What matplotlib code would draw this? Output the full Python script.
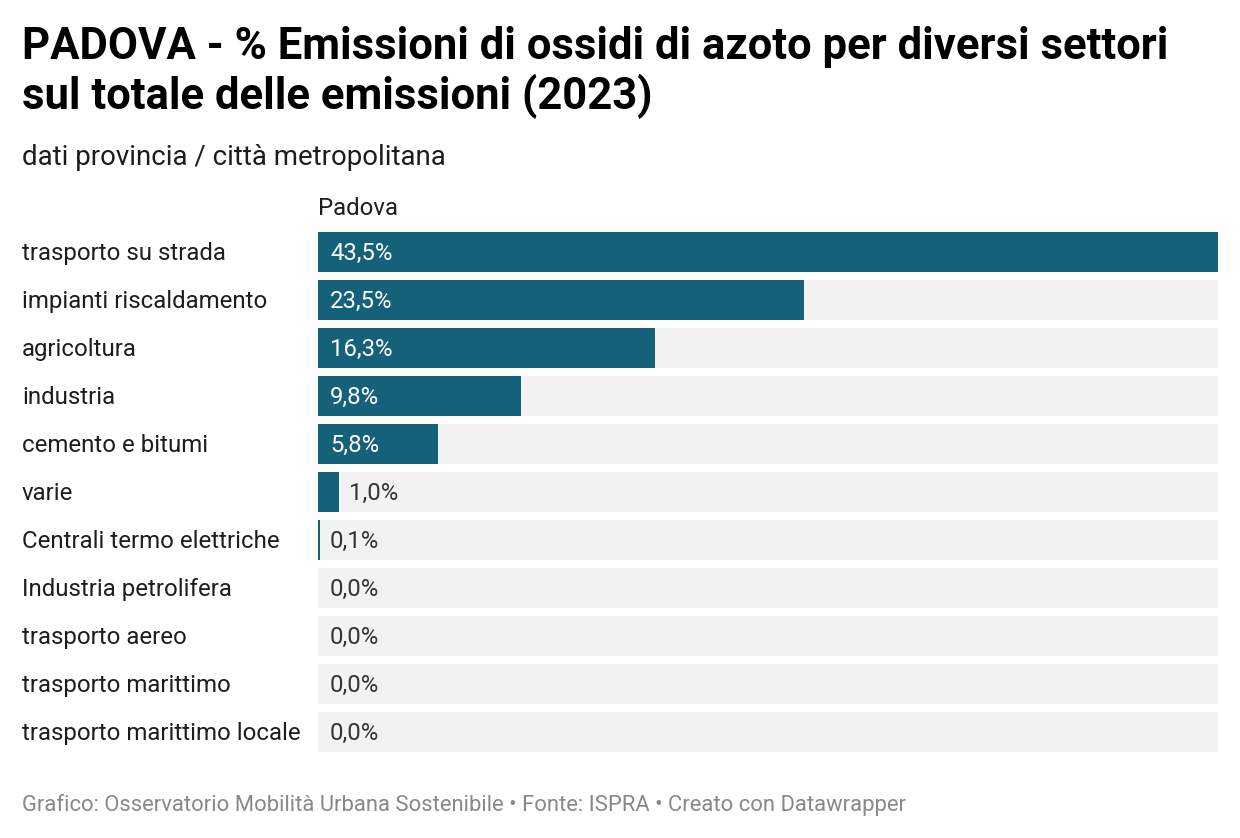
import matplotlib.pyplot as plt
from matplotlib import transforms

plt.rcParams["font.family"] = ["Roboto", "DejaVu Sans"]

categories = [
    "trasporto su strada",
    "impianti riscaldamento",
    "agricoltura",
    "industria",
    "cemento e bitumi",
    "varie",
    "Centrali termo elettriche",
    "Industria petrolifera",
    "trasporto aereo",
    "trasporto marittimo",
    "trasporto marittimo locale",
]
values = [43.5, 23.5, 16.3, 9.8, 5.8, 1.0, 0.1, 0.0, 0.0, 0.0, 0.0]
column_name = "Padova"

title_lines = ["PADOVA - % Emissioni di ossidi di azoto per diversi settori",
               "sul totale delle emissioni (2023)"]
subtitle = "dati provincia / città metropolitana"
footer = "Grafico: Osservatorio Mobilità Urbana Sostenibile • Fonte: ISPRA • Creato con Datawrapper"

W, H = 1240, 838
bar_color = "#15617a"
bg_color = "#f2f2f2"


def fy(px):
    return 1 - px / H


fig = plt.figure(figsize=(W / 100, H / 100), dpi=100)
ax = fig.add_axes([318 / W, fy(756), 900 / W, 528 / H])

n = len(categories)
y = list(range(n))
vmax = max(values)
ax.barh(y, [vmax] * n, height=40 / 48, color=bg_color)
ax.barh(y, values, height=40 / 48, color=bar_color)
ax.set_xlim(0, vmax)
ax.set_ylim(n - 0.5, -0.5)
ax.axis("off")

for i, v in enumerate(values):
    label = f"{v:.1f}%".replace(".", ",")
    if v >= 5:
        tr = transforms.offset_copy(ax.transData, fig=fig, x=12, y=1, units="dots")
        ax.text(0, i, label, transform=tr, color="white", fontsize=17.2, va="center_baseline")
    else:
        off = 10 if v > 0 else 12
        tr = transforms.offset_copy(ax.transData, fig=fig, x=off, y=1, units="dots")
        ax.text(v, i, label, transform=tr, color="#333333", fontsize=17.2, va="center_baseline")
    fig.text(22 / W, fy(251 + 48 * i), categories[i], fontsize=17.3,
             color="#1d1d1d", va="center_baseline", ha="left")

fig.text(318 / W, fy(215), column_name, fontsize=17.2, color="#1d1d1d", va="baseline")
fig.text(22 / W, fy(59), title_lines[0], fontsize=31.4, fontweight="bold", color="#000000",
         va="baseline", ha="left")
fig.text(22 / W, fy(109), title_lines[1], fontsize=31.4, fontweight="bold", color="#000000",
         va="baseline", ha="left")
fig.text(22 / W, fy(165), subtitle, fontsize=19.9, color="#1d1d1d", va="baseline")
fig.text(22 / W, fy(811), footer, fontsize=15.8, color="#888888", va="baseline")

fig.savefig("out.png", dpi=100, facecolor="white")
